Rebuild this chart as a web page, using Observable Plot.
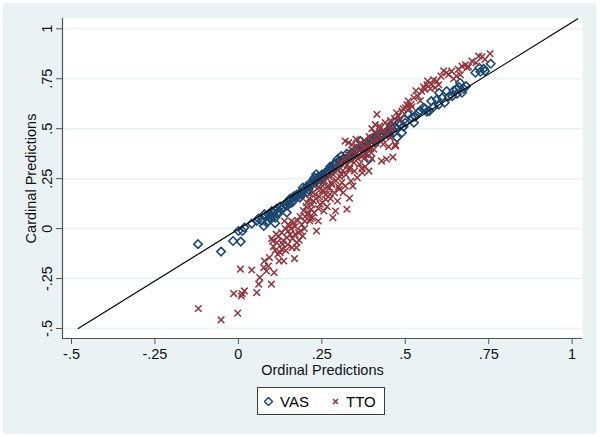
<!DOCTYPE html>
<html>
<head>
<meta charset="utf-8">
<script src="https://cdn.jsdelivr.net/npm/d3@7"></script>
<script src="https://cdn.jsdelivr.net/npm/@observablehq/plot@0.6"></script>
<style>
  html, body { margin: 0; padding: 0; }
  body { width: 600px; height: 437px; background: #ffffff; position: relative; overflow: hidden;
         font-family: "Liberation Sans", Arial, Helvetica, sans-serif; }
  #bg { position: absolute; left: 3px; top: 3px; width: 593px; height: 431px; background: #eaf2f3; }
  #chart { position: absolute; left: 0; top: 0; }
  #legend { position: absolute; left: 257px; top: 387px; width: 126px; height: 26px;
            border: 1px solid #3a3a3a; background: #fff; font-size: 15px; color: #000; }
  #legend .item { position: absolute; top: 0; height: 26px; line-height: 27px; }
  #legend svg { position: absolute; top: 9px; }
</style>
</head>
<body>
<div id="bg"></div>
<div id="chart"></div>
<div id="legend"></div>
<script>
// ---- data ----
const xTicks = [-0.5, -0.25, 0, 0.25, 0.5, 0.75, 1];
const yTicks = [-0.5, -0.25, 0, 0.25, 0.5, 0.75, 1];
const seriesNames = ["VAS", "TTO"];
const seriesColors = ["#1a476f", "#90353b"];

// reference line endpoints [x, y]
const refLine = [[-0.48, -0.5], [1.017, 1.05]];

// VAS: [ordinal prediction, cardinal prediction]
const vasPoints = [
  [-0.121,-0.078],[-0.052,-0.115],[-0.016,-0.062],[0.0,-0.012],[0.007,-0.065],[0.012,-0.012],
  [0.018,0.005],[0.04,0.025],[0.055,0.038],[0.076,0.013],[0.078,0.072],[0.09,0.038],
  [0.11,0.027],[0.10,0.088],[0.11,0.055],[0.118,0.072],[0.136,0.105],[0.145,0.08],
  [0.153,0.125],[0.164,0.138],[0.17,0.163],[0.184,0.155],[0.193,0.205],[0.205,0.18],
  [0.216,0.23],[0.228,0.255],[0.233,0.272],[0.245,0.222],[0.256,0.255],[0.274,0.297],
  [0.285,0.322],[0.297,0.347],[0.308,0.363],[0.325,0.375],[0.337,0.355],[0.348,0.388],
  [0.366,0.438],[0.383,0.397],[0.391,0.347],[0.394,0.447],[0.411,0.43],[0.429,0.455],
  [0.446,0.488],[0.457,0.513],[0.475,0.455],[0.48,0.53],[0.49,0.48],[0.498,0.547],
  [0.509,0.572],[0.526,0.53],[0.538,0.58],[0.555,0.605],[0.572,0.588],[0.578,0.638],
  [0.595,0.647],[0.601,0.68],[0.618,0.63],[0.624,0.688],[0.641,0.663],[0.653,0.697],
  [0.664,0.73],[0.67,0.68],[0.682,0.713],[0.71,0.78],[0.722,0.805],[0.739,0.788],[0.756,0.825],
  [0.06,0.05],[0.07,0.04],[0.08,0.06],[0.085,0.03],[0.09,0.07],[0.095,0.05],[0.1,0.06],
  [0.105,0.08],[0.11,0.09],[0.115,0.1],[0.12,0.085],[0.125,0.11],[0.13,0.1],[0.14,0.12],
  [0.145,0.115],[0.15,0.14],[0.155,0.15],[0.16,0.13],[0.165,0.16],[0.175,0.17],[0.18,0.165],
  [0.185,0.18],[0.19,0.17],[0.195,0.19],[0.2,0.2],[0.205,0.21],[0.21,0.195],[0.215,0.215],
  [0.22,0.22],[0.225,0.24],[0.23,0.23],[0.235,0.245],[0.24,0.26],[0.245,0.25],[0.25,0.27],
  [0.255,0.265],[0.26,0.28],[0.265,0.27],[0.27,0.29],[0.275,0.31],[0.28,0.3],[0.285,0.295],
  [0.29,0.32],[0.295,0.33],[0.3,0.315],[0.305,0.34],[0.31,0.335],[0.315,0.35],[0.32,0.345],
  [0.33,0.36],[0.335,0.37],[0.34,0.38],[0.345,0.365],[0.35,0.39],[0.355,0.4],[0.36,0.385],
  [0.37,0.41],[0.375,0.42],[0.38,0.405],[0.385,0.43],[0.39,0.44],[0.4,0.43],[0.405,0.45],
  [0.41,0.44],[0.415,0.46],[0.42,0.45],[0.425,0.47],[0.435,0.47],[0.44,0.48],[0.45,0.47],
  [0.455,0.49],[0.46,0.5],[0.465,0.48],[0.47,0.51],[0.485,0.52],[0.495,0.51],[0.5,0.53],
  [0.52,0.555],[0.53,0.56],[0.545,0.59],[0.56,0.6],[0.565,0.585],[0.585,0.61],[0.6,0.62],
  [0.61,0.655],[0.63,0.66],[0.645,0.69],[0.655,0.675],[0.66,0.71],[0.675,0.7],[0.725,0.785],[0.735,0.8]
];

// TTO: [ordinal prediction, cardinal prediction]
const ttoPoints = [
  [-0.12,-0.40],[-0.052,-0.457],[-0.002,-0.423],[0.006,-0.203],[-0.014,-0.325],[0.009,-0.337],
  [0.011,-0.325],[0.018,-0.312],[0.04,-0.207],[0.055,-0.32],[0.061,-0.278],[0.064,-0.245],
  [0.076,-0.195],[0.078,-0.162],[0.084,-0.212],[0.09,-0.187],[0.093,-0.145],[0.099,-0.278],
  [0.103,-0.062],[0.107,-0.22],[0.113,-0.028],[0.118,-0.128],[0.122,-0.162],[0.13,-0.103],
  [0.133,-0.078],[0.136,-0.162],[0.138,0.038],[0.145,-0.045],[0.149,-0.012],[0.153,0.013],
  [0.159,0.038],[0.161,-0.095],[0.168,-0.15],[0.17,-0.028],[0.174,-0.095],[0.182,-0.058],
  [0.187,-0.012],[0.193,-0.037],[0.199,0.038],[0.205,0.13],[0.208,0.072],[0.214,0.038],
  [0.218,0.097],[0.222,0.055],[0.225,0.138],[0.23,0.172],[0.234,-0.012],[0.239,0.038],
  [0.245,0.122],[0.251,0.188],[0.256,0.088],[0.262,0.147],[0.268,0.213],[0.274,0.172],
  [0.279,0.23],[0.283,0.055],[0.291,0.088],[0.297,0.138],[0.302,0.197],[0.308,0.272],
  [0.314,0.18],[0.32,0.213],[0.325,0.097],[0.329,0.297],[0.32,0.438],[0.333,0.152],
  [0.337,0.238],[0.343,0.213],[0.348,0.288],[0.352,0.447],[0.356,0.255],[0.363,0.322],
  [0.371,0.28],[0.379,0.355],[0.386,0.405],[0.391,0.288],[0.398,0.38],[0.406,0.397],
  [0.415,0.572],[0.416,0.447],[0.423,0.513],[0.429,0.338],[0.434,0.422],[0.444,0.347],
  [0.455,0.455],[0.463,0.358],[0.471,0.413],[0.48,0.563],[0.49,0.588],[0.501,0.605],
  [0.509,0.638],[0.517,0.622],[0.526,0.655],[0.538,0.663],[0.549,0.688],[0.559,0.697],
  [0.567,0.738],[0.578,0.722],[0.589,0.705],[0.595,0.738],[0.607,0.763],[0.624,0.78],
  [0.639,0.788],[0.653,0.763],[0.659,0.797],[0.67,0.813],[0.685,0.805],[0.7,0.838],
  [0.72,0.863],[0.739,0.847],[0.754,0.875],
  [0.1,-0.05],[0.105,-0.09],[0.11,-0.11],[0.115,-0.07],[0.12,-0.04],[0.125,-0.12],[0.13,-0.02],
  [0.135,-0.06],[0.14,0.0],[0.142,-0.11],[0.148,-0.08],[0.15,0.02],[0.155,-0.03],[0.158,0.0],
  [0.162,-0.05],[0.165,0.03],[0.17,0.01],[0.175,-0.07],[0.178,0.04],[0.18,-0.02],[0.185,0.06],
  [0.19,0.02],[0.195,0.09],[0.198,0.0],[0.2,0.06],[0.203,0.11],[0.21,0.08],[0.212,0.15],
  [0.216,0.05],[0.22,0.12],[0.224,0.18],[0.227,0.08],[0.232,0.15],[0.236,0.2],[0.24,0.1],
  [0.243,0.16],[0.248,0.22],[0.252,0.13],[0.255,0.19],[0.258,0.24],[0.262,0.17],[0.266,0.11],
  [0.27,0.2],[0.272,0.26],[0.276,0.15],[0.28,0.22],[0.285,0.27],[0.288,0.18],[0.292,0.24],
  [0.296,0.3],[0.3,0.21],[0.304,0.26],[0.306,0.33],[0.31,0.23],[0.313,0.29],[0.318,0.35],
  [0.322,0.27],[0.326,0.32],[0.33,0.37],[0.334,0.3],[0.338,0.34],[0.342,0.39],[0.346,0.33],
  [0.35,0.37],[0.354,0.41],[0.358,0.35],[0.362,0.39],[0.366,0.43],[0.37,0.36],[0.374,0.4],
  [0.378,0.44],[0.382,0.37],[0.388,0.42],[0.392,0.46],[0.396,0.4],[0.402,0.44],[0.408,0.48],
  [0.412,0.43],[0.418,0.47],[0.424,0.5],[0.43,0.45],[0.436,0.49],[0.44,0.53],[0.446,0.48],
  [0.45,0.51],[0.456,0.54],[0.462,0.5],[0.468,0.55],[0.474,0.58],[0.484,0.55],[0.494,0.6],
  [0.505,0.62],[0.512,0.6],[0.52,0.61],[0.532,0.69],[0.545,0.64],[0.555,0.71],[0.565,0.72],
  [0.575,0.7],[0.585,0.745],[0.6,0.72],[0.615,0.79],[0.63,0.77],[0.645,0.75],[0.665,0.77],
  [0.68,0.82],[0.69,0.81],[0.712,0.83],[0.73,0.86],
  [0.33,0.43],[0.34,0.42],[0.4,0.5],[0.41,0.52],[0.37,0.3],[0.38,0.31],[0.4,0.35],[0.45,0.41],[0.47,0.42]
];

// ---- chart ----
const fmt = d => String(d).replace(/^(-?)0\./, "$1.");
const axisColor = "#555";

const chart = Plot.plot({
  width: 600,
  height: 380,
  marginLeft: 62,
  marginRight: 18,
  marginTop: 18,
  marginBottom: 42,
  style: { background: "transparent", fontFamily: "'Liberation Sans', Arial, Helvetica, sans-serif", fontSize: "14.5px", color: "#111" },
  x: { domain: [-0.527, 1.031] },
  y: { domain: [-0.55, 1.0515] },
  marks: [
    Plot.frame({ fill: "white", stroke: null }),
    Plot.gridY(yTicks, { stroke: "#eaf2f3", strokeOpacity: 1, strokeWidth: 1.5 }),
    Plot.axisX(xTicks, { tickFormat: fmt, tickSize: 6, tickPadding: 4, stroke: axisColor,
      label: "Ordinal Predictions", labelAnchor: "center", labelOffset: 36, labelArrow: false }),
    Plot.axisY(yTicks, { tickFormat: fmt, tickSize: 6, tickPadding: 5, tickRotate: -90, stroke: axisColor,
      label: "Cardinal Predictions", labelAnchor: "center", labelOffset: 37, labelArrow: false }),
    Plot.ruleX([-0.527], { stroke: axisColor, strokeWidth: 1.2 }),
    Plot.ruleY([-0.55], { stroke: axisColor, strokeWidth: 1.2 }),
    Plot.dot(vasPoints, { x: d => d[0], y: d => d[1], symbol: "diamond2", r: 3.8,
      stroke: seriesColors[0], strokeWidth: 1.6, fill: "none" }),
    Plot.dot(ttoPoints, { x: d => d[0], y: d => d[1], symbol: "times", r: 3.1,
      stroke: seriesColors[1], strokeWidth: 1.5 }),
    Plot.line(refLine, { x: d => d[0], y: d => d[1], stroke: "#000", strokeWidth: 1.2 })
  ]
});
document.getElementById("chart").appendChild(chart);

// ---- legend ----
const legend = document.getElementById("legend");
const legendItems = [
  { name: seriesNames[0], color: seriesColors[0], sym: "M4.5,0.5L8.5,4.5L4.5,8.5L0.5,4.5Z", symLeft: 6, textLeft: 22, fill: "none" },
  { name: seriesNames[1], color: seriesColors[1], sym: "M2,2L7,7M7,2L2,7", symLeft: 73, textLeft: 88, fill: "none" }
];
for (const it of legendItems) {
  const s = document.createElementNS("http://www.w3.org/2000/svg", "svg");
  s.setAttribute("width", 9); s.setAttribute("height", 9);
  s.style.left = it.symLeft + "px";
  const p = document.createElementNS("http://www.w3.org/2000/svg", "path");
  p.setAttribute("d", it.sym); p.setAttribute("stroke", it.color);
  p.setAttribute("stroke-width", 1.5); p.setAttribute("fill", it.fill);
  s.appendChild(p); legend.appendChild(s);
  const t = document.createElement("span");
  t.className = "item"; t.style.left = it.textLeft + "px"; t.textContent = it.name;
  legend.appendChild(t);
}
</script>
</body>
</html>
